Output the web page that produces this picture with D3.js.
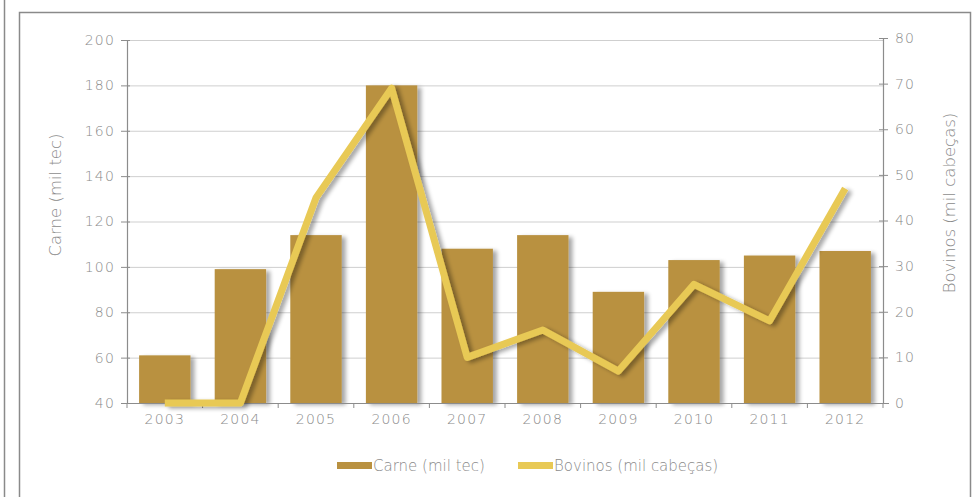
<!DOCTYPE html>
<html>
<head>
<meta charset="utf-8">
<script src="https://cdn.jsdelivr.net/npm/d3@7"></script>
<style>
  html, body { margin: 0; padding: 0; background: #fff; }
  svg { display: block; }
  text { font-family: "DejaVu Sans", "Open Sans", sans-serif; fill: #8a8a8a; }
</style>
</head>
<body>
<svg id="chart" width="975" height="497"></svg>
<script>
// Years on the category axis
const years = ["2003", "2004", "2005", "2006", "2007", "2008", "2009", "2010", "2011", "2012"];
// Meat production (thousand tonnes carcass equivalent), left axis
const carne = [61, 99, 114, 180, 108, 114, 89, 103, 105, 107];
// Cattle (thousand head), right axis
const bovinos = [0, 0, 45, 69, 10, 16, 7, 26, 18, 47];
// Tick values for both axes
const leftTicks = [40, 60, 80, 100, 120, 140, 160, 180, 200];
const rightTicks = [0, 10, 20, 30, 40, 50, 60, 70, 80];

const svg = d3.select("#chart");
const barColor = "#b99140";
const lineColor = "#e8c955";
const axisColor = "#8c8c8c";
const textColor = "#8a8a8a";

// Frames
svg.append("line").attr("x1", 4.5).attr("x2", 4.5).attr("y1", 0).attr("y2", 497)
  .attr("stroke", "#8a8a8a").attr("stroke-width", 1.5);
svg.append("rect").attr("x", 19.5).attr("y", 12.5).attr("width", 951).attr("height", 490)
  .attr("fill", "none").attr("stroke", "#8a8a8a").attr("stroke-width", 1.5);

const plotLeft = 127, plotRight = 883, plotTop = 40, plotBottom = 403;

const x = d3.scaleBand().domain(years).range([plotLeft, plotRight]).paddingInner(0.32).paddingOuter(0.16);
const xb = d3.scaleBand().domain(years).range([plotLeft, plotRight]);
const yL = d3.scaleLinear().domain([40, 200]).range([plotBottom, plotTop]);
const yR = d3.scaleLinear().domain([0, 80]).range([plotBottom, plotTop - 2]);

// Shadow filter for bars and line
const defs = svg.append("defs");
const f = defs.append("filter").attr("id", "shadow").attr("x", "-20%").attr("y", "-20%").attr("width", "150%").attr("height", "150%");
f.append("feGaussianBlur").attr("in", "SourceAlpha").attr("stdDeviation", 2.2).attr("result", "b");
f.append("feOffset").attr("in", "b").attr("dx", 4).attr("dy", 2).attr("result", "o");
f.append("feComponentTransfer").attr("in", "o").attr("result", "s")
  .append("feFuncA").attr("type", "linear").attr("slope", 0.35);
const m = f.append("feMerge");
m.append("feMergeNode").attr("in", "s");
m.append("feMergeNode").attr("in", "SourceGraphic");

// Gridlines
svg.append("g").selectAll("line").data(leftTicks.slice(1)).join("line")
  .attr("x1", plotLeft).attr("x2", plotRight)
  .attr("y1", d => yL(d) + 0.5).attr("y2", d => yL(d) + 0.5)
  .attr("stroke", "#cfcfcf").attr("stroke-width", 1);

// Bars
svg.append("g").attr("filter", "url(#shadow)").selectAll("rect").data(carne).join("rect")
  .attr("x", (d, i) => x(years[i]))
  .attr("y", d => yL(d))
  .attr("width", x.bandwidth())
  .attr("height", d => yL(40) - yL(d))
  .attr("fill", barColor);

// Axes
const axisStyle = g => {
  g.selectAll("path.domain").attr("stroke", axisColor).attr("stroke-width", 1.2);
  g.selectAll(".tick line").attr("stroke", axisColor);
  g.selectAll(".tick text").attr("fill", textColor).style("font-size", "14px")
    .style("letter-spacing", "1.2px").style("font-weight", 200)
    .style("font-family", "'DejaVu Sans', sans-serif");
};

svg.append("g").attr("transform", `translate(${plotLeft},0)`)
  .call(d3.axisLeft(yL).tickValues(leftTicks).tickSize(6).tickSizeOuter(0).tickPadding(6))
  .call(axisStyle)
  .call(g => g.selectAll(".tick line").attr("x1", -6).attr("x2", 3));

svg.append("g").attr("transform", `translate(${plotRight},0)`)
  .call(d3.axisRight(yR).tickValues(rightTicks).tickSize(6).tickSizeOuter(0).tickPadding(6))
  .call(axisStyle)
  .call(g => g.selectAll(".tick line").attr("x1", -4).attr("x2", 5));

// Category axis with ticks between bands
const xAxis = svg.append("g").attr("transform", `translate(0,${plotBottom})`);
xAxis.append("line").attr("x1", plotLeft - 6).attr("x2", plotRight + 6).attr("y1", 0.5).attr("y2", 0.5)
  .attr("stroke", axisColor).attr("stroke-width", 1.2);
xAxis.selectAll("line.tk").data(d3.range(years.length + 1)).join("line").attr("class", "tk")
  .attr("x1", i => plotLeft + i * xb.step()).attr("x2", i => plotLeft + i * xb.step())
  .attr("y1", 0).attr("y2", 5).attr("stroke", axisColor);
xAxis.selectAll("text").data(years).join("text")
  .attr("x", d => xb(d) + xb.bandwidth() / 2)
  .attr("y", 21)
  .attr("text-anchor", "middle")
  .style("font-size", "14px")
  .style("letter-spacing", "1.2px")
  .style("font-weight", 200)
  .text(d => d);

// Cattle line
const line = d3.line()
  .x((d, i) => xb(years[i]) + xb.bandwidth() / 2)
  .y(d => yR(d));
svg.append("path").datum(bovinos)
  .attr("d", line)
  .attr("fill", "none")
  .attr("stroke", lineColor)
  .attr("stroke-width", 7)
  .attr("stroke-linejoin", "round")
  .attr("filter", "url(#shadow)");

// Axis titles
svg.append("text").attr("transform", "translate(61,195) rotate(-90)")
  .attr("text-anchor", "middle").style("font-size", "16.5px").style("font-weight", 200)
  .text("Carne (mil tec)");
svg.append("text").attr("transform", "translate(955,203) rotate(-90)")
  .attr("text-anchor", "middle").style("font-size", "16.5px").style("font-weight", 200)
  .text("Bovinos (mil cabeças)");

// Legend
const legend = [
  { label: "Carne (mil tec)", color: barColor, x: 337 },
  { label: "Bovinos (mil cabeças)", color: lineColor, x: 518 }
];
const lg = svg.append("g").selectAll("g").data(legend).join("g")
  .attr("transform", d => `translate(${d.x},466)`);
lg.append("rect").attr("x", 0).attr("y", -4).attr("width", 35).attr("height", 7).attr("fill", d => d.color);
lg.append("text").attr("x", 36).attr("y", 5).style("font-size", "15px").style("font-weight", 200)
  .text(d => d.label);
</script>
</body>
</html>
